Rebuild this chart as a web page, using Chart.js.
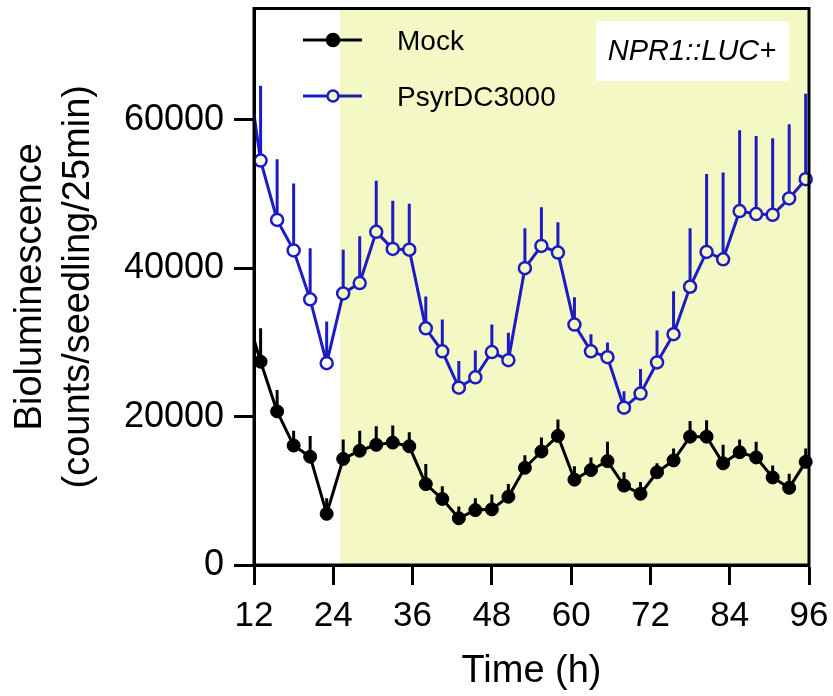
<!DOCTYPE html>
<html>
<head>
<meta charset="utf-8">
<script src="https://cdn.jsdelivr.net/npm/chart.js@4"></script>
<style>
  html, body { margin: 0; padding: 0; background: #fff; }
  #wrap { width: 833px; height: 696px; }
</style>
</head>
<body>
<div id="wrap"><canvas id="chart" width="833" height="696"></canvas></div>
<script>
// time points (h); the first one lies left of the axis and is clipped
const hours = [10.5, 13, 15.5, 18, 20.5, 23, 25.5, 28, 30.5, 33, 35.5, 38, 40.5, 43, 45.5, 48, 50.5,
    53, 55.5, 58, 60.5, 63, 65.5, 68, 70.5, 73, 75.5, 78, 80.5, 83, 85.5, 88, 90.5, 93, 95.5];

const mockMean = [34900, 27400, 20700, 16100, 14600, 6900, 14300, 15400, 16200, 16500, 16000, 10900,
    8900, 6300, 7400, 7500, 9200, 13100, 15300, 17400, 11500, 12800, 14000, 10700, 9600, 12500,
    14100, 17300, 17300, 13700, 15200, 14500, 11800, 10400, 13900];
const mockSem = [3000, 4500, 2900, 2000, 2800, 2100, 2600, 2700, 2500, 2300, 1900, 2700, 1700, 1600,
    1600, 2000, 1700, 1700, 1900, 2200, 1800, 1700, 2600, 1800, 1600, 1200, 1600, 2100, 2200, 2500,
    1700, 2100, 1600, 1900, 1800];

const psyrMean = [70000, 54500, 46500, 42400, 35800, 27200, 36600, 38000, 44900, 42600, 42500, 31900,
    28800, 23900, 25300, 28700, 27600, 40000, 43000, 42100, 32400, 28800, 28000, 21200, 23100, 27300,
    31100, 37500, 42200, 41200, 47700, 47300, 47200, 49400, 52000];
const psyrSem = [8000, 10100, 8200, 9000, 6900, 5600, 5900, 6300, 6900, 6500, 6200, 4300, 4300, 3600,
    3600, 3700, 3700, 5400, 5200, 4100, 3700, 2300, 2000, 2200, 3300, 4300, 5800, 7900, 10500, 11700,
    10900, 10500, 10300, 10000, 11500];

const xTicks = [12, 24, 36, 48, 60, 72, 84, 96];
const yTicks = [0, 20000, 40000, 60000];
const lightStart = 25;   // shaded region starts here (h)

const BLUE = '#1c1cc4';
const SHADE = '#f3f8c4';
const FONT = '"Liberation Sans", Arial, sans-serif';

const pts = (ys) => hours.map((h, i) => ({ x: h, y: ys[i] }));

// shading + error bars under the lines
const backdrop = {
    id: 'backdrop',
    beforeDatasetsDraw(chart) {
        const { ctx, chartArea: a, scales: { x, y } } = chart;
        ctx.save();
        ctx.fillStyle = SHADE;
        const x0 = x.getPixelForValue(lightStart);
        ctx.fillRect(x0, a.top, a.right - x0, a.bottom - a.top);

        ctx.beginPath();
        ctx.rect(a.left, a.top, a.right - a.left, a.bottom - a.top);
        ctx.clip();
        const bars = [[mockMean, mockSem, '#000', 3], [psyrMean, psyrSem, BLUE, 3]];
        bars.forEach(([m, s, col, w]) => {
            ctx.strokeStyle = col;
            ctx.lineWidth = w;
            hours.forEach((h, i) => {
                const px = x.getPixelForValue(h);
                ctx.beginPath();
                ctx.moveTo(px, y.getPixelForValue(m[i]));
                ctx.lineTo(px, y.getPixelForValue(m[i] + s[i]));
                ctx.stroke();
            });
        });
        ctx.restore();
    }
};

// frame, legend and label box on top
const overlay = {
    id: 'overlay',
    afterDraw(chart) {
        const { ctx, chartArea: a } = chart;
        ctx.save();
        ctx.strokeStyle = '#000';
        ctx.lineWidth = 3;
        ctx.strokeRect(a.left, a.top, a.right - a.left, a.bottom - a.top);

        // legend
        const rows = [
            { label: 'Mock', y: 40, col: '#000', fill: '#000', r: 6 },
            { label: 'PsyrDC3000', y: 96, col: BLUE, fill: SHADE, r: 5.5 }
        ];
        rows.forEach(r => {
            ctx.strokeStyle = r.col;
            ctx.lineWidth = 3;
            ctx.beginPath();
            ctx.moveTo(303, r.y);
            ctx.lineTo(362, r.y);
            ctx.stroke();
            ctx.beginPath();
            ctx.arc(333, r.y, r.r, 0, Math.PI * 2);
            ctx.fillStyle = r.fill;
            ctx.fill();
            ctx.lineWidth = 2.5;
            ctx.stroke();
            ctx.fillStyle = '#000';
            ctx.font = '28px ' + FONT;
            ctx.textBaseline = 'middle';
            ctx.textAlign = 'left';
            ctx.fillText(r.label, 397, r.y + 2);
        });

        // genotype box
        ctx.fillStyle = '#fff';
        ctx.fillRect(596, 21, 193, 60);
        ctx.fillStyle = '#000';
        ctx.font = 'italic 29px ' + FONT;
        ctx.textAlign = 'center';
        ctx.fillText('NPR1::LUC+', 692, 52);
        ctx.restore();
    }
};

new Chart(document.getElementById('chart'), {
    type: 'line',
    data: {
        datasets: [
            {
                label: 'Mock',
                data: pts(mockMean),
                borderColor: '#000',
                borderWidth: 3,
                pointRadius: 6.5,
                pointBackgroundColor: '#000',
                pointBorderColor: '#000',
                pointBorderWidth: 1,
                clip: { left: 0, top: false, right: 8, bottom: false }
            },
            {
                label: 'PsyrDC3000',
                data: pts(psyrMean),
                borderColor: BLUE,
                borderWidth: 3,
                pointRadius: 6,
                pointBorderWidth: 2.5,
                pointBorderColor: BLUE,
                pointBackgroundColor: c => (c.raw && c.raw.x < lightStart ? '#fff' : SHADE),
                clip: { left: 0, top: false, right: 8, bottom: false }
            }
        ]
    },
    options: {
        responsive: false,
        animation: false,
        layout: { padding: { top: 8, right: 24, left: 0, bottom: 0 } },
        plugins: { legend: { display: false }, tooltip: { enabled: false } },
        scales: {
            x: {
                type: 'linear',
                min: 12,
                max: 96,
                afterFit: s => { s.height = 131; s.paddingLeft = 0; s.paddingRight = 0; },
                afterBuildTicks: s => { s.ticks = xTicks.map(v => ({ value: v })); },
                ticks: { color: '#000', font: { family: FONT, size: 35 }, padding: 10, maxRotation: 0 },
                grid: { drawOnChartArea: false, tickLength: 20, tickColor: '#000', tickWidth: 3 },
                border: { color: '#000', width: 3 },
                title: { display: true, text: 'Time (h)', color: '#000', font: { family: FONT, size: 38 }, padding: { top: 0, bottom: 2 } }
            },
            y: {
                min: 0,
                max: 75000,
                afterFit: s => { s.width = 254; s.paddingTop = 0; s.paddingBottom = 0; },
                afterBuildTicks: s => { s.ticks = yTicks.map(v => ({ value: v })); },
                ticks: { color: '#000', font: { family: FONT, size: 36 }, padding: 10, callback: v => String(v) },
                grid: { drawOnChartArea: false, tickLength: 20, tickColor: '#000', tickWidth: 3 },
                border: { color: '#000', width: 3 },
                title: {
                    display: true,
                    text: ['Bioluminescence', '(counts/seedling/25min)'],
                    color: '#000',
                    font: { family: FONT, size: 38, lineHeight: 1.28 },
                    padding: { top: 6, bottom: 0 }
                }
            }
        }
    },
    plugins: [backdrop, overlay]
});
</script>
</body>
</html>
